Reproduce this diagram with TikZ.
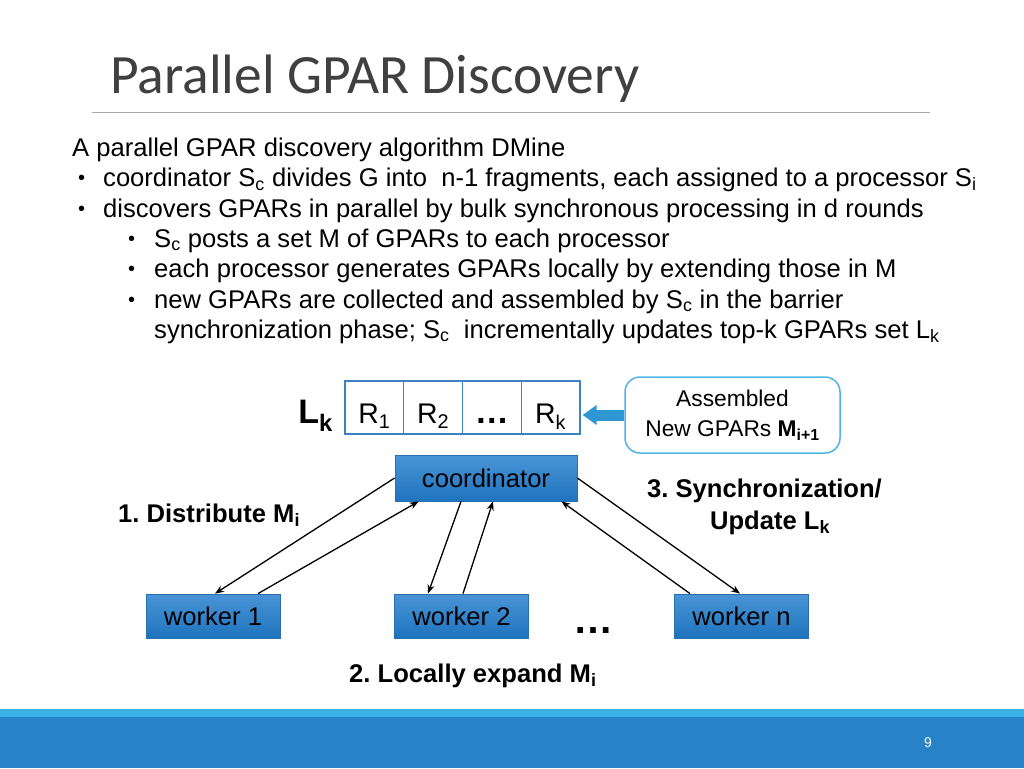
\documentclass[tikz,border=0pt]{standalone}
\usepackage{fontspec}
\setmainfont{Liberation Sans}
\newfontfamily\titlefont{Carlito}
\usetikzlibrary{arrows.meta,calc}
\frenchspacing
\definecolor{titlegray}{HTML}{404040}
\definecolor{rulegray}{HTML}{A6A6A6}
\definecolor{boxtop}{HTML}{4A94D6}
\definecolor{boxbot}{HTML}{1E74BE}
\definecolor{boxedge}{HTML}{2A6FB0}
\definecolor{celledge}{HTML}{3C82C4}
\definecolor{asmedge}{HTML}{4FB3E3}
\definecolor{arrowblue}{HTML}{2E96D2}
\definecolor{bandtop}{HTML}{3AB2E8}
\definecolor{band}{HTML}{2782C7}
\tikzset{
  body/.style={anchor=base west, inner sep=0pt, font=\fontsize{25.6}{30}\selectfont},
  bul/.style={anchor=base west, inner sep=0pt, font=\fontsize{20}{30}\selectfont},
  bluebox/.style={draw=boxedge, line width=0.8pt, top color=boxtop, bottom color=boxbot,
    minimum width=134pt, minimum height=44pt, inner sep=0pt, font=\fontsize{25.6}{30}\selectfont},
  cell/.style={draw=celledge, line width=1.2pt, fill=white, minimum width=58.75pt,
    minimum height=53pt, inner sep=0pt, text height=31.5pt, text depth=0pt,
    font=\fontsize{28.4}{30}\selectfont},
  lbl/.style={anchor=base west, inner sep=0pt, font=\bfseries\fontsize{25.6}{30}\selectfont},
  arr/.style={line width=1.3pt, -{Stealth[length=9pt,width=7pt]}},
}
\begin{document}
\begin{tikzpicture}[x=1pt,y=-1pt]
\useasboundingbox (0,0) rectangle (1024,768);
% title
\node[anchor=base west, inner sep=0pt, font=\titlefont\fontsize{55.5}{60}\selectfont, text=titlegray] (title) at (110,93) {Parallel GPAR Discovery};
\draw[rulegray, line width=1pt] (92,112) -- (930,112);
% body
\node[body] (l1) at (72,156) {A parallel GPAR discovery algorithm DMine};
\node[bul] (b2) at (78,184.5) {•};
\node[body] (l2) at (103,186.5) {coordinator S\textsubscript{c} divides G into\ \ n-1 fragments, each assigned to a processor S\textsubscript{i}};
\node[bul] (b3) at (78,215) {•};
\node[body] (l3) at (103,217) {discovers GPARs in parallel by bulk synchronous processing in d rounds};
\node[bul] (b4) at (128,245) {•};
\node[body] (l4) at (154,247) {S\textsubscript{c} posts a set M of GPARs to each processor};
\node[bul] (b5) at (128,275.5) {•};
\node[body] (l5) at (154,277.5) {each processor generates GPARs locally by extending those in M};
\node[bul] (b6) at (128,306) {•};
\node[body] (l6) at (154,308) {new GPARs are collected and assembled by S\textsubscript{c} in the barrier};
\node[body] (l7) at (154,338) {synchronization phase; S\textsubscript{c}\ \ incrementally updates top-k GPARs set L\textsubscript{k}};
% Lk row
\node[anchor=base east, inner sep=0pt, font=\bfseries\fontsize{34}{36}\selectfont] (lk) at (333,423) {L\textsubscript{k}};
\node[cell] (r1) at (374.4,407.5) {R\textsubscript{1}};
\node[cell] (r2) at (433.1,407.5) {R\textsubscript{2}};
\node[cell, font=\bfseries\fontsize{34}{36}\selectfont] (rd) at (491.9,407.5) {…};
\node[cell] (rk) at (550.6,407.5) {R\textsubscript{k}};
\node[draw=asmedge, line width=1.5pt, rounded corners=15pt, minimum width=215pt, minimum height=76pt,
  align=center, font=\fontsize{22.75}{30}\selectfont, inner sep=0pt] (asm) at (732.5,415)
  {Assembled\\New GPARs \textbf{M\textsubscript{i+1}}};
\draw[arrowblue, line width=11pt, -{Triangle[length=14pt,width=19pt]}] (asm.west) -- ([xshift=2pt,yshift=-7.5pt]rk.east);
% coordinator and workers
\node[bluebox, minimum width=182pt, minimum height=46pt] (coord) at (486,478) {coordinator};
\node[bluebox] (w1) at (213,616) {worker 1};
\node[bluebox] (w2) at (461.5,616) {worker 2};
\node[bluebox] (wn) at (741.5,616) {worker n};
\node[anchor=base west, inner sep=0pt, font=\bfseries\fontsize{40}{40}\selectfont] (dots) at (573,633) {…};
% arrows
\draw[arr] (coord.west) -- ([xshift=2pt]w1.north);
\draw[arr] ([xshift=45pt]w1.north) -- ([xshift=24pt]coord.south west);
\draw[arr] ([xshift=-25pt]coord.south) -- ([xshift=-33.5pt]w2.north);
\draw[arr] ([xshift=1.5pt]w2.north) -- ([xshift=7pt]coord.south);
\draw[arr] ([xshift=-51.5pt]wn.north) -- ([xshift=-16pt]coord.south east);
\draw[arr] (coord.east) -- ([xshift=-1.5pt]wn.north);
% labels
\node[lbl] (dist) at (118,522) {1. Distribute M\textsubscript{i}};
\node[anchor=base, inner sep=0pt, font=\bfseries\fontsize{25.6}{32}\selectfont] (sync1) at (764.5,497) {3. Synchronization/};
\node[anchor=base, inner sep=0pt, font=\bfseries\fontsize{25.6}{32}\selectfont] (sync2) at (770,529) {Update L\textsubscript{k}};
\node[lbl] (local) at (349,682) {2. Locally expand M\textsubscript{i}};
% footer band
\fill[bandtop] (0,709) rectangle (1024,717);
\fill[band] (0,717) rectangle (1024,768);
\node[text=white, inner sep=0pt, font=\fontsize{14}{16}\selectfont] (pnum) at (928,743) {9};
\end{tikzpicture}
\end{document}
